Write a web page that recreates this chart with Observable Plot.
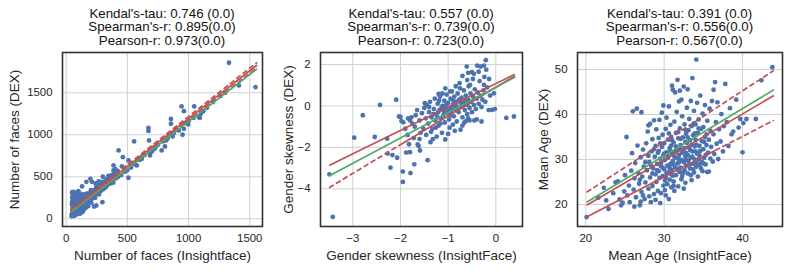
<!DOCTYPE html>
<html><head><meta charset="utf-8">
<script src="https://cdn.jsdelivr.net/npm/d3@7"></script>
<script src="https://cdn.jsdelivr.net/npm/@observablehq/plot@0.6"></script>
<style>
body{margin:0;background:#fff;}
#chart{position:relative;width:789px;height:270px;font-family:"Liberation Sans",Arial,sans-serif;overflow:hidden;}
.title{position:absolute;top:7px;width:260px;text-align:center;font-size:13.3px;line-height:13.4px;color:#111;white-space:pre;}
.panel{position:absolute;top:48px;}
</style></head><body><div id="chart"></div>
<script>
// ---------- Panel 1: number of faces ----------
const facesTitle = ["Kendal's-tau: 0.746 (0.0)", "Spearman's-r: 0.895(0.0)", "Pearson-r: 0.973(0.0)"];
const facesXLabel = "Number of faces (Insightface)";
const facesYLabel = "Number of faces (DEX)";
const facesXTicks = [0, 500, 1000, 1500];
const facesYTicks = [0, 500, 1000, 1500];
const facesPoints = [
[45,30],[48,60],[50,95],[52,130],[47,170],[55,210],[50,250],[53,290],[58,320],[46,45],[56,75],[60,150],[49,200],[57,265],
[62,40],[64,85],[66,120],[63,165],[68,190],[65,230],[70,275],[72,310],[75,60],[78,105],[74,140],[77,180],[79,220],[73,255],[76,295],
[82,50],[84,90],[86,125],[88,160],[83,200],[90,240],[92,285],[95,320],[97,75],[99,115],[94,150],[96,185],[98,225],[91,265],
[102,95],[105,130],[108,165],[104,205],[110,240],[113,280],[116,300],[119,110],[121,150],[118,190],[124,230],[127,265],[129,140],[112,60],[125,95],
[132,120],[135,170],[138,210],[141,250],[144,290],[147,155],[150,195],[153,235],[156,275],[159,170],[162,215],[165,255],[168,300],[160,130],[145,110],
[172,180],[175,220],[178,260],[181,300],[185,200],[188,240],[192,285],[196,215],[200,255],[204,300],[208,235],[212,275],[216,320],[198,476],[180,150],[205,190],[218,265],
[222,260],[226,300],[230,340],[235,285],[240,330],[245,370],[250,300],[255,345],[260,390],[265,330],[270,370],[275,420],[280,350],[285,395],[290,440],[295,375],[228,146],[246,158],[296,198],[240,420],[265,445],[300,500],
[305,400],[310,440],[318,370],[322,420],[330,470],[335,400],[342,450],[350,490],[358,430],[365,480],[372,520],[380,460],[388,510],[395,545],[405,480],[412,530],[420,570],[130,385],[49,317],[100,330],[165,440],[210,440],
[387,635],[387,575],[455,623],[428,813],[463,733],[509,694],[509,488],[577,635],[618,714],[685,754],[780,813],[807,860],[815,932],[862,1012],[856,1188],[856,1131],[672,1083],[672,1045],[677,932],[555,920],
[943,1337],[962,1281],[1046,1337],[1092,1202],[997,1123],[962,1071],[951,1000],[1330,1857],[1411,1587],[1547,1567],
[600,700],[640,760],[700,800],[730,850],[750,880],[790,920],[830,960],[880,1020],[900,1060],[1000,1160],[1040,1200],[1100,1250],[1150,1320],[1200,1390],[1260,1460],[1300,1500],[1120,1280],
[480,560],[530,610],[560,650],[450,520],[500,580],[620,740],[680,790],[720,830],[820,940],[870,980],[920,1050],[975,1138],[1083,1210],
[58,110],[67,35],[81,145],[93,60],[107,100],[117,255],[134,80],[149,270],[163,180],[176,285],[189,205],[202,340],[219,300],[237,250],[252,400],[268,290],[283,330],[302,350],[326,380],[345,510],[362,420],[385,430],[402,590],[425,500]
];
const facesLines = [
  {style:"redDash", x1:40, y1:112, x2:1560, y2:1862},
  {style:"redDash", x1:40, y1:88,  x2:1560, y2:1800},
  {style:"red",     x1:40, y1:100, x2:1560, y2:1830},
  {style:"green",   x1:40, y1:80,  x2:1560, y2:1785}
];

// ---------- Panel 2: gender skewness ----------
const genderTitle = ["Kendal's-tau: 0.557 (0.0)", "Spearman's-r: 0.739(0.0)", "Pearson-r: 0.723(0.0)"];
const genderXLabel = "Gender skewness (InsightFace)";
const genderYLabel = "Gender skewness (DEX)";
const genderXTicks = [-3, -2, -1, 0];
const genderYTicks = [2, 0, -2, -4];
const genderPoints = [
[-3.49,-3.30],[-3.42,-5.36],[-2.97,-1.53],[-2.79,-0.45],[-2.54,-1.50],[-2.43,0.05],[-2.28,-1.58],[-2.21,-2.98],[-2.27,-2.30],[-2.17,-2.37],[-2.09,0.30],[-2.07,-2.50],[-1.95,-3.17],[-1.95,-3.67],[-1.79,-3.24],[-1.71,-2.82],[-2.00,-0.53],[-1.98,-0.73],[-1.84,-0.60],[-1.77,-0.55],[-1.88,-2.25],[-1.82,-1.85],[-1.62,-1.93],[-1.59,-2.15],[-1.43,-2.62],[-1.37,-1.75],[-1.24,-1.48],[-1.64,-1.86],[-1.80,-2.23],[-1.06,-1.62],[-0.74,-1.15],
[-0.61,1.90],[-0.39,1.95],[-0.32,1.90],[-0.25,1.95],[-0.21,2.21],[-0.58,1.60],[-0.50,1.63],[-0.46,1.55],[-0.54,1.02],[-0.25,1.02],[-0.18,0.90],[-0.04,0.61],[-0.08,-0.19],[0.22,-0.58],[0.38,-0.51],[-0.45,-0.70],[-0.55,-0.70],[-0.62,-0.72],[-1.20,0.58],[-1.49,0.13],[-2.03,-0.51],[-1.94,-0.79],[-1.80,-0.70],
[-1.55,-0.35],[-1.50,-0.10],[-1.47,-0.60],[-1.45,0.05],[-1.42,-0.85],[-1.40,-0.30],[-1.38,0.20],[-1.35,-0.55],[-1.33,-1.10],[-1.30,-0.15],[-1.28,0.35],[-1.27,-0.70],[-1.25,-0.40],[-1.22,0.10],[-1.20,-0.95],[-1.18,-0.20],[-1.17,0.45],[-1.15,-0.60],[-1.13,-1.30],[-1.12,0.00],[-1.10,-0.45],[-1.08,0.25],[-1.07,-0.80],[-1.05,-0.10],[-1.03,0.55],[-1.02,-0.35],[-1.00,0.15],[-0.98,-0.65],[-0.97,-1.05],[-0.95,0.35],[-0.93,-0.25],[-0.92,0.70],[-0.90,0.05],[-0.88,-0.50],[-0.87,0.45],[-0.85,-0.15],[-0.83,0.20],[-0.82,-0.75],[-0.80,0.60],[-0.78,-0.30],[-0.77,0.30],[-0.75,0.85],[-0.73,-0.05],[-0.72,0.40],[-0.70,-0.55],[-0.68,0.15],[-0.67,0.75],[-0.65,-0.20],[-0.63,0.50],[-0.62,0.05],[-0.60,-0.40],[-0.58,0.30],[-0.57,0.95],[-0.55,-0.10],[-0.53,0.60],[-0.52,0.20],[-0.50,-0.30],[-0.48,0.45],[-0.46,0.05],[-0.44,0.80],[-0.42,-0.15],[-0.40,0.35],[-0.38,0.65],[-0.36,0.10],[-0.34,1.20],[-0.32,0.50],[-0.30,-0.05],[-0.28,0.30],[-0.26,0.75],[-0.24,1.40],[-0.22,0.20],[-0.30,-0.75],[-0.40,-0.65],[-0.90,-0.90],
[-1.60,-0.70],[-1.65,-0.20],[-1.70,-1.00],[-1.68,-0.45],[-1.75,-0.85],[-1.58,-1.30],[-1.52,-1.10],[-1.46,-1.40],[-1.36,-1.25],[-1.26,-1.05],[-1.16,-0.85],[-1.90,-1.10],[-1.85,-1.40],[-1.72,-1.55],[-1.60,-1.60],[-1.32,-1.60],[-1.00,-1.35],[-0.86,-1.20],[-0.70,-0.95],[-0.66,-0.80],[-0.76,1.10],[-0.84,0.95],[-0.96,0.70],[-1.06,0.85],[-1.12,0.60],[-0.60,1.25],[-0.70,1.45],[-0.48,1.30],[-0.36,1.65],[-0.20,1.75],[-0.12,0.50],[-0.15,-0.20],[-0.02,-0.15],[-0.95,-0.45],[-1.22,-0.55],[-1.40,-0.05],[-0.58,-0.60],[-0.14,1.30],
[-1.14,-0.10],[-1.04,0.05],[-0.94,-0.10],[-0.84,0.05],[-0.74,0.15],[-0.64,0.30],[-1.19,0.25],[-1.09,-0.25],[-0.99,-0.20],[-0.89,0.25],[-0.79,-0.10],[-0.69,0.00],[-1.31,-0.40],[-1.21,-0.30],[-0.59,0.10]
];
const genderLines = [
  {style:"redDash", x1:-3.5, y1:-3.95, x2:-2.0, y2:-1.87},
  {style:"red",     x1:-2.0, y1:-1.87, x2:0.4,  y2:1.45},
  {style:"red",     x1:-3.5, y1:-2.87, x2:0.4,  y2:1.53},
  {style:"green",   x1:-3.5, y1:-3.38, x2:0.41, y2:1.40}
];

// ---------- Panel 3: mean age ----------
const ageTitle = ["Kendal's-tau: 0.391 (0.0)", "Spearman's-r: 0.556(0.0)", "Pearson-r: 0.567(0.0)"];
const ageXLabel = "Mean Age (InsightFace)";
const ageYLabel = "Mean Age (DEX)";
const ageXTicks = [20, 30, 40];
const ageYTicks = [20, 30, 40, 50];
const agePoints = [
[20.1,17.2],[21.6,21.5],[22.3,23.7],[22.6,20.9],[22.9,19.0],[23.5,22.5],[23.8,24.9],[24.1,25.1],[24.3,21.1],[24.5,19.8],[24.7,20.4],[24.9,22.9],[25.0,26.5],
[25.2,35.0],[25.3,22.0],[25.5,24.2],[25.6,20.5],[25.8,27.5],[25.9,31.4],[26.0,40.7],[26.1,23.3],[26.2,25.8],[26.3,29.2],[26.4,21.6],[26.5,41.3],[26.6,33.1],[26.7,27.0],[26.8,24.6],[26.9,19.8],[27.0,30.5],[27.1,40.5],[27.1,22.8],[27.2,26.2],[27.3,32.2],[27.4,28.4],[27.5,21.2],[27.6,24.9],[27.7,33.6],[27.8,27.6],[27.9,31.0],[27.9,36.2],
[28.0,37.6],[28.0,23.5],[28.1,29.4],[28.2,37.9],[28.2,26.0],[28.3,20.5],[28.4,31.8],[28.5,24.1],[28.5,34.5],[28.6,28.0],[28.7,38.7],[28.7,22.3],[28.8,30.6],[28.9,26.7],[28.9,33.0],[29.0,25.0],[29.0,36.7],[29.1,29.0],[29.2,23.0],[29.2,31.5],[29.3,27.4],[29.3,34.8],[29.4,25.9],[29.4,38.8],[29.5,30.2],[29.6,22.5],[29.6,28.5],[29.7,32.8],[29.7,40.4],[29.8,26.3],[29.8,35.5],[29.9,42.0],[29.9,24.2],[29.9,30.9],
[30.0,27.8],[30.0,33.6],[30.1,23.2],[30.1,29.9],[30.2,36.8],[30.2,26.0],[30.3,31.6],[30.3,39.3],[30.4,24.5],[30.4,28.6],[30.5,34.4],[30.5,30.4],[30.6,27.1],[30.6,41.8],[30.7,25.5],[30.7,32.5],[30.8,29.0],[30.8,37.7],[30.9,23.8],[30.9,35.0],[31.0,46.4],[31.0,31.2],[31.0,27.6],[31.1,45.5],[31.1,29.6],[31.2,33.8],[31.2,25.1],[31.3,38.4],[31.3,30.6],[31.4,28.2],[31.4,44.9],[31.5,35.9],[31.5,26.5],[31.6,32.1],[31.6,40.6],[31.7,47.7],[31.7,29.1],[31.8,24.0],[31.8,34.7],[31.9,31.0],[31.9,27.4],[31.9,42.9],
[32.0,45.3],[32.0,30.0],[32.0,36.9],[32.1,28.2],[32.1,33.2],[32.2,25.6],[32.2,43.3],[32.3,31.5],[32.3,39.6],[32.4,27.0],[32.4,34.9],[32.5,29.4],[32.5,46.2],[32.6,32.5],[32.6,37.8],[32.7,24.8],[32.7,30.7],[32.8,35.7],[32.8,28.6],[32.9,41.5],[32.9,33.7],[33.0,31.0],[33.0,26.9],[33.0,45.6],[33.1,29.7],[33.1,36.5],[33.2,32.6],[33.2,39.0],[33.3,28.0],[33.3,34.3],[33.4,30.4],[33.4,43.0],[33.5,25.4],[33.5,37.4],[33.6,48.1],[33.6,31.8],[33.7,29.0],[33.7,35.4],[33.8,27.1],[33.8,40.8],[33.9,32.9],[33.9,30.0],
[34.0,34.4],[34.0,37.8],[34.1,52.2],[34.1,28.4],[34.2,31.3],[34.2,42.6],[34.3,26.2],[34.3,35.9],[34.4,30.0],[34.4,38.9],[34.5,33.0],[34.5,28.8],[34.6,44.2],[34.6,31.9],[34.7,36.8],[34.8,29.5],[34.8,34.1],[34.9,40.2],[34.9,27.4],[35.0,32.3],[35.0,37.2],[35.1,30.4],[35.2,42.1],[35.2,35.0],[35.3,28.9],[35.4,33.2],[35.5,27.2],[35.5,38.6],[35.6,31.5],[35.7,27.3],[35.7,34.4],[35.8,41.3],[35.9,30.2],[35.9,36.4],
[36.0,32.8],[36.1,43.0],[36.2,29.5],[36.3,45.5],[36.3,35.6],[36.4,31.2],[36.5,47.2],[36.6,38.3],[36.7,33.5],[36.8,42.7],[36.9,30.1],[37.0,36.7],[37.2,34.0],[37.3,40.1],[37.5,31.8],[37.6,37.4],[37.8,46.8],[38.0,38.3],[38.2,33.0],[38.4,41.4],[38.6,35.6],[38.8,36.2],
[39.2,43.3],[39.5,37.1],[39.7,39.0],[40.0,31.6],[40.1,38.1],[40.5,39.0],[41.7,39.0],[42.4,47.6],[43.8,50.5],
[28.9,21.0],[29.5,20.3],[30.2,22.0],[31.3,23.0],[30.6,21.2],[32.5,23.5],[27.0,20.6],[26.2,19.5],[27.3,22.0],[28.1,21.8],
[30.4,30.9],[30.8,31.8],[31.2,28.8],[31.6,30.3],[32.0,32.4],[32.4,29.8],[32.8,31.4],[33.2,28.9],[33.6,30.6],[34.0,31.8],[30.9,33.1],[31.5,32.9],[32.1,34.6],[32.7,33.9],[33.3,32.1],[33.9,35.8],[34.5,30.9],[35.1,33.9],[31.1,26.4],[31.8,27.9],[32.6,27.6],[33.4,26.5],[34.2,29.1],[29.6,29.3],[30.0,31.3],[30.7,28.1],[29.3,31.9],[28.7,32.3],[28.3,28.7],[28.0,30.8],
[29.1,27.6],[29.8,28.2],[30.3,27.0],[30.9,26.7],[31.4,31.6],[31.9,29.4],[32.3,26.3],[32.9,29.9],[33.5,33.3],[34.1,33.3],[34.7,28.0],[35.3,31.0],[29.5,33.6],[30.6,35.8],[31.8,36.1],[32.4,32.0],[33.0,34.9],[33.7,27.8],[34.4,36.9],[35.0,29.1],[31.2,24.1],[32.0,27.2],[30.1,25.3],[28.5,26.9],[27.6,29.4],[26.9,25.5],[31.0,34.3],[32.7,36.6],[33.8,38.0],[35.4,35.6]
];
const ageLines = [
  {style:"redDash", x1:20.1, y1:22.7, x2:44.0, y2:49.8},
  {style:"red",     x1:20.1, y1:17.2, x2:36.5, y2:32.0},
  {style:"redDash", x1:36.5, y1:32.0, x2:44.0, y2:38.7},
  {style:"red",     x1:20.1, y1:19.8, x2:44.0, y2:44.2},
  {style:"green",   x1:20.1, y1:20.5, x2:44.0, y2:45.5}
];

// ---------- drawing ----------
const FONT = '"Liberation Sans", Arial, sans-serif';
const RED = "#C44E52", GREEN = "#55A868", BLUE = "#4C72B0";
const chart = document.getElementById("chart");
const intFormat = d3.format("d");

function panel(cfg) {
  const linkOpts = {x1: "x1", y1: "y1", x2: "x2", y2: "y2", strokeWidth: 1.7};
  const yMid = (cfg.yDomain[0] + cfg.yDomain[1]) / 2;
  const svg = Plot.plot({
    width: cfg.width, height: 222,
    marginLeft: cfg.marginLeft, marginRight: 4, marginTop: 4, marginBottom: 44,
    style: {fontFamily: FONT, fontSize: "11.4px", color: "#262626", background: "transparent", overflow: "visible"},
    x: {domain: cfg.xDomain, ticks: cfg.xTicks, tickFormat: intFormat, tickSize: 0, tickPadding: 7, label: null},
    y: {domain: cfg.yDomain, ticks: cfg.yTicks, tickFormat: intFormat, tickSize: 0, tickPadding: 10, label: null},
    marks: [
      Plot.ruleX(cfg.xTicks, {stroke: "#d0d0d0", strokeWidth: 1}),
      Plot.ruleY(cfg.yTicks, {stroke: "#d0d0d0", strokeWidth: 1}),
      Plot.dot(cfg.points, {x: d => d[0], y: d => d[1], r: 2.4, fill: BLUE}),
      Plot.link(cfg.lines.filter(l => l.style === "redDash"), {...linkOpts, stroke: RED, strokeDasharray: "5.5,2.6"}),
      Plot.link(cfg.lines.filter(l => l.style === "red"), {...linkOpts, stroke: RED}),
      Plot.link(cfg.lines.filter(l => l.style === "green"), {...linkOpts, stroke: GREEN}),
      Plot.frame({stroke: "#333333", strokeWidth: 1.6}),
      Plot.text([cfg.xLabel], {text: d => d, frameAnchor: "bottom", textAnchor: "middle", lineAnchor: "middle", dy: 29, fontSize: 13.5, fill: "#262626"}),
      Plot.text([cfg.yLabel], {text: d => d, y: () => yMid, frameAnchor: "left", textAnchor: "middle", lineAnchor: "middle", dx: cfg.yLabelDx, rotate: -90, fontSize: 13.5, fill: "#262626"})
    ]
  });
  svg.classList.add("panel");
  svg.style.position = "absolute";
  svg.style.left = cfg.left + "px";
  svg.style.top = "48px";
  chart.appendChild(svg);
  const t = document.createElement("div");
  t.className = "title";
  t.textContent = cfg.title.join("\n");
  t.style.left = (cfg.center - 130) + "px";
  chart.appendChild(t);
}

panel({left: 0, width: 266, marginLeft: 62, center: 162,
  xDomain: [-30, 1604], yDomain: [-92, 1979], xTicks: facesXTicks, yTicks: facesYTicks,
  points: facesPoints, lines: facesLines, xLabel: facesXLabel, yLabel: facesYLabel, yLabelDx: -48, title: facesTitle});
panel({left: 266, width: 260, marginLeft: 54, center: 421,
  xDomain: [-3.678, 0.56], yDomain: [-5.82, 2.58], xTicks: genderXTicks, yTicks: genderYTicks,
  points: genderPoints, lines: genderLines, xLabel: genderXLabel, yLabel: genderYLabel, yLabelDx: -32, title: genderTitle});
panel({left: 526, width: 260, marginLeft: 51, center: 679.5,
  xDomain: [18.94, 45.1], yDomain: [15.1, 53.78], xTicks: ageXTicks, yTicks: ageYTicks,
  points: agePoints, lines: ageLines, xLabel: ageXLabel, yLabel: ageYLabel, yLabelDx: -34, title: ageTitle});
</script></body></html>
